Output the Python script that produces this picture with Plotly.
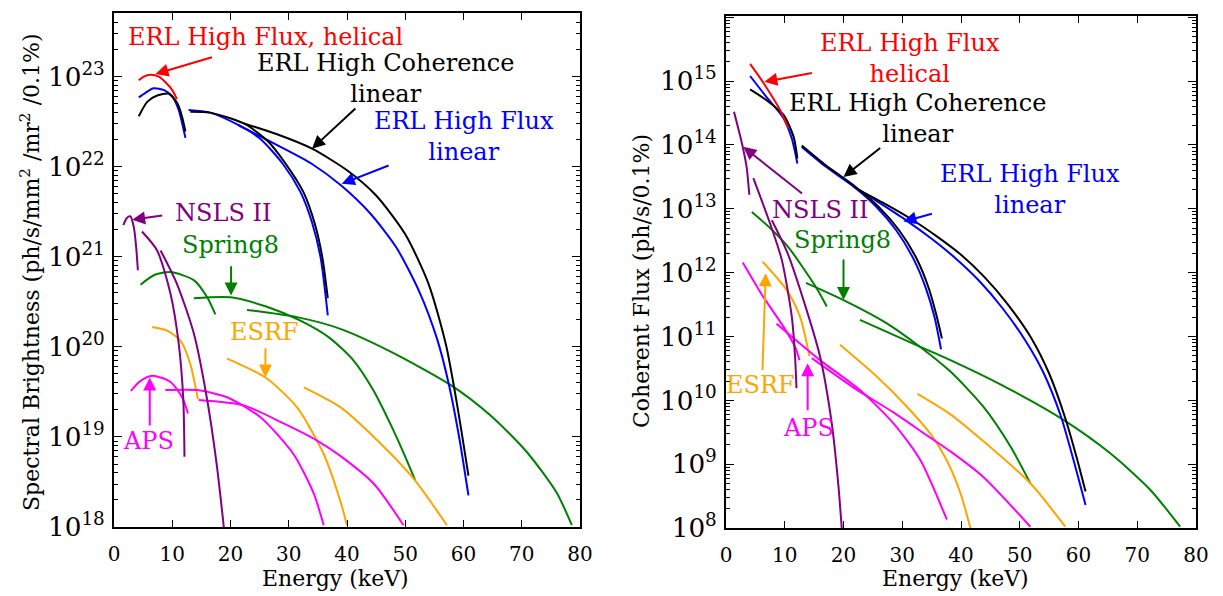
import numpy as np
import plotly.graph_objects as go

# ---------------- data: energies (keV) and log10 of values ----------------
# Left panel: spectral brightness (log10 ph/s/mm^2/mr^2/0.1%)
B_ERL_HF_HEL_E = [4.25, 5.1, 6.3, 7.7, 8.8, 10.0, 10.8]
B_ERL_HF_HEL_L = [22.96, 23.0, 23.02, 23.0, 22.94, 22.85, 22.75]
B_ERL_HF_1_E = [4.25, 5.4, 6.8, 8.6, 10.0, 11.1, 12.26]
B_ERL_HF_1_L = [22.77, 22.82, 22.87, 22.85, 22.78, 22.63, 22.32]
B_ERL_HF_3_E = [12.8, 16.5, 21.4, 25.1, 29.0, 32.0, 34.0, 35.5, 36.7]
B_ERL_HF_3_L = [22.63, 22.60, 22.46, 22.31, 22.03, 21.72, 21.38, 20.98, 20.35]
B_ERL_HF_5_E = [21.4, 28.0, 34.0, 39.0, 44.0, 48.5, 52.5, 55.5, 57.5, 59.3, 60.85]
B_ERL_HF_5_L = [22.46, 22.24, 22.03, 21.79, 21.48, 21.10, 20.60, 20.08, 19.58, 18.98, 18.35]
B_ERL_HC_1_E = [4.25, 5.7, 7.4, 9.4, 10.9, 11.7, 12.26]
B_ERL_HC_1_L = [22.56, 22.72, 22.79, 22.81, 22.70, 22.55, 22.39]
B_ERL_HC_3_E = [13.1, 16.5, 22.3, 26.3, 29.5, 32.5, 34.5, 35.8, 36.7]
B_ERL_HC_3_L = [22.61, 22.60, 22.48, 22.29, 22.03, 21.72, 21.36, 20.98, 20.54]
B_ERL_HC_5_E = [22.3, 28.0, 34.0, 40.0, 45.0, 50.0, 54.0, 57.0, 59.0, 60.85]
B_ERL_HC_5_L = [22.48, 22.36, 22.20, 21.96, 21.68, 21.25, 20.70, 20.02, 19.32, 18.57]
B_NSLS_1_E = [1.6, 2.2, 2.8, 3.4, 3.8, 4.1]
B_NSLS_1_L = [21.35, 21.43, 21.45, 21.33, 21.11, 20.85]
B_NSLS_2_E = [4.8, 7.4, 9.7, 11.1, 11.9, 12.1]
B_NSLS_2_L = [21.28, 21.07, 20.59, 20.04, 19.41, 18.78]
B_NSLS_3_E = [8.0, 10.8, 13.7, 16.0, 17.7, 18.85]
B_NSLS_3_L = [21.07, 20.70, 20.15, 19.41, 18.66, 18.0]
B_SP8_1_E = [4.55, 7.0, 9.7, 13.7, 16.0, 17.4]
B_SP8_1_L = [20.69, 20.80, 20.83, 20.74, 20.55, 20.36]
B_SP8_2_E = [13.7, 20.0, 26.0, 32.0, 37.0, 41.1, 44.5, 47.4, 49.6, 51.7]
B_SP8_2_L = [20.54, 20.55, 20.45, 20.29, 20.10, 19.85, 19.52, 19.15, 18.84, 18.52]
B_SP8_3_E = [22.85, 31.4, 38.85, 47.4, 57.7, 64.6, 70.9, 76.0, 78.6]
B_SP8_3_L = [20.41, 20.33, 20.20, 19.95, 19.58, 19.24, 18.83, 18.38, 18.02]
B_ESRF_1_E = [6.55, 9.1, 11.4, 13.1, 14.4]
B_ESRF_1_L = [20.22, 20.18, 20.07, 19.81, 19.42]
B_ESRF_2_E = [19.4, 26.0, 31.4, 36.0, 38.85, 40.0]
B_ESRF_2_L = [19.87, 19.66, 19.33, 18.81, 18.29, 18.02]
B_ESRF_3_E = [32.6, 38.85, 44.6, 51.4, 57.15]
B_ESRF_3_L = [19.55, 19.33, 19.0, 18.54, 18.02]
B_APS_1_E = [2.9, 4.5, 6.55, 9.7, 11.7, 12.7]
B_APS_1_L = [19.51, 19.62, 19.68, 19.61, 19.44, 19.26]
B_APS_2_E = [8.8, 14.3, 19.4, 25.1, 30.8, 34.3, 36.0]
B_APS_2_L = [19.52, 19.52, 19.44, 19.22, 18.81, 18.37, 18.02]
B_APS_3_E = [14.55, 22.3, 29.1, 34.85, 38.85, 44.6, 49.7]
B_APS_3_L = [19.41, 19.35, 19.15, 18.96, 18.79, 18.48, 18.02]

# Right panel: coherent flux (log10 ph/s/0.1%)
F_ERL_HF_HEL_E = [4.1, 5.8, 7.5, 9.2, 10.6]
F_ERL_HF_HEL_L = [15.27, 15.05, 14.81, 14.55, 14.26]
F_ERL_HF_1_E = [4.1, 6.9, 9.8, 11.2, 12.15]
F_ERL_HF_1_L = [15.08, 14.75, 14.42, 14.10, 13.71]
F_ERL_HF_3_E = [12.9, 17.0, 21.7, 25.5, 29.0, 32.0, 34.0, 35.5, 36.6]
F_ERL_HF_3_L = [13.97, 13.66, 13.35, 13.04, 12.66, 12.20, 11.76, 11.30, 10.80]
F_ERL_HF_5_E = [21.7, 26.0, 30.5, 35.0, 39.0, 43.0, 47.0, 51.0, 54.0, 57.0, 59.4, 61.2]
F_ERL_HF_5_L = [13.35, 13.10, 12.83, 12.53, 12.23, 11.88, 11.45, 10.93, 10.44, 9.75, 8.98, 8.36]
F_ERL_HC_1_E = [4.1, 6.9, 9.8, 11.5, 12.15]
F_ERL_HC_1_L = [14.87, 14.70, 14.47, 14.13, 13.79]
F_ERL_HC_3_E = [12.9, 17.0, 21.7, 26.0, 29.5, 32.5, 34.5, 35.8, 36.75]
F_ERL_HC_3_L = [13.99, 13.68, 13.37, 13.03, 12.66, 12.21, 11.76, 11.34, 10.97]
F_ERL_HC_5_E = [22.5, 27.0, 31.5, 36.0, 40.0, 44.0, 48.0, 52.0, 55.0, 57.75, 59.7, 61.2]
F_ERL_HC_5_L = [13.30, 13.08, 12.84, 12.56, 12.28, 11.93, 11.50, 10.97, 10.42, 9.72, 9.10, 8.57]
F_NSLS_1_E = [1.36, 2.7, 3.5, 3.97]
F_NSLS_1_L = [14.52, 14.03, 13.66, 13.22]
F_NSLS_2_E = [4.65, 7.5, 9.5, 11.2, 11.75, 12.0]
F_NSLS_2_L = [13.48, 12.77, 12.2, 11.31, 10.69, 10.19]
F_NSLS_3_E = [7.8, 10.5, 13.7, 16.0, 18.0, 19.1, 19.7]
F_NSLS_3_L = [12.82, 12.3, 11.42, 10.69, 9.64, 8.70, 8.0]
F_SP8_1_E = [4.4, 7.5, 10.6, 15.4, 17.15]
F_SP8_1_L = [12.95, 12.7, 12.4, 11.76, 11.47]
F_SP8_2_E = [13.6, 20.0, 27.3, 33.0, 38.2, 43.8, 48.4, 51.8]
F_SP8_2_L = [11.84, 11.57, 11.21, 10.84, 10.45, 9.90, 9.28, 8.70]
F_SP8_3_E = [22.8, 30.8, 38.2, 46.7, 57.5, 65.4, 72.2, 77.3]
F_SP8_3_L = [11.26, 10.93, 10.63, 10.25, 9.69, 9.17, 8.60, 8.02]
F_ESRF_1_E = [6.25, 10.3, 12.6, 14.2]
F_ESRF_1_L = [12.17, 11.73, 11.31, 10.69]
F_ESRF_2_E = [19.4, 25.7, 30.8, 35.0, 38.0, 40.0, 41.6]
F_ESRF_2_L = [10.87, 10.37, 9.90, 9.45, 8.98, 8.52, 8.0]
F_ESRF_3_E = [32.6, 38.2, 43.8, 51.8, 57.75]
F_ESRF_3_L = [10.10, 9.78, 9.36, 8.70, 8.02]
F_APS_1_E = [2.85, 6.35, 9.8, 11.75, 12.5]
F_APS_1_L = [12.16, 11.62, 11.15, 10.84, 10.63]
F_APS_2_E = [8.6, 16.0, 22.8, 28.5, 33.05, 37.6]
F_APS_2_L = [11.2, 10.63, 10.16, 9.64, 9.07, 8.13]
F_APS_3_E = [14.6, 21.7, 28.5, 34.2, 38.2, 43.8, 51.8]
F_APS_3_L = [10.66, 10.20, 9.81, 9.45, 9.20, 8.80, 8.02]

X_TICKS = [0, 10, 20, 30, 40, 50, 60, 70, 80]

# ---------------- styling ----------------
RED, BLUE, BLACK = "#ff0000", "#0000ff", "#000000"
PURPLE, GREEN, ORANGE, MAGENTA = "#800080", "#008000", "#ffa500", "#ff00ff"
FONT = "DejaVu Serif"

left_curves = [
    (B_SP8_1_E, B_SP8_1_L, GREEN), (B_SP8_2_E, B_SP8_2_L, GREEN), (B_SP8_3_E, B_SP8_3_L, GREEN),
    (B_ESRF_1_E, B_ESRF_1_L, ORANGE), (B_ESRF_2_E, B_ESRF_2_L, ORANGE), (B_ESRF_3_E, B_ESRF_3_L, ORANGE),
    (B_APS_1_E, B_APS_1_L, MAGENTA), (B_APS_2_E, B_APS_2_L, MAGENTA), (B_APS_3_E, B_APS_3_L, MAGENTA),
    (B_NSLS_1_E, B_NSLS_1_L, PURPLE), (B_NSLS_2_E, B_NSLS_2_L, PURPLE), (B_NSLS_3_E, B_NSLS_3_L, PURPLE),
    (B_ERL_HF_1_E, B_ERL_HF_1_L, BLUE), (B_ERL_HF_3_E, B_ERL_HF_3_L, BLUE), (B_ERL_HF_5_E, B_ERL_HF_5_L, BLUE),
    (B_ERL_HC_1_E, B_ERL_HC_1_L, BLACK), (B_ERL_HC_3_E, B_ERL_HC_3_L, BLACK), (B_ERL_HC_5_E, B_ERL_HC_5_L, BLACK),
    (B_ERL_HF_HEL_E, B_ERL_HF_HEL_L, RED),
]
right_curves = [
    (F_SP8_1_E, F_SP8_1_L, GREEN), (F_SP8_2_E, F_SP8_2_L, GREEN), (F_SP8_3_E, F_SP8_3_L, GREEN),
    (F_ESRF_1_E, F_ESRF_1_L, ORANGE), (F_ESRF_2_E, F_ESRF_2_L, ORANGE), (F_ESRF_3_E, F_ESRF_3_L, ORANGE),
    (F_APS_1_E, F_APS_1_L, MAGENTA), (F_APS_2_E, F_APS_2_L, MAGENTA), (F_APS_3_E, F_APS_3_L, MAGENTA),
    (F_NSLS_1_E, F_NSLS_1_L, PURPLE), (F_NSLS_2_E, F_NSLS_2_L, PURPLE), (F_NSLS_3_E, F_NSLS_3_L, PURPLE),
    (F_ERL_HF_1_E, F_ERL_HF_1_L, BLUE), (F_ERL_HF_3_E, F_ERL_HF_3_L, BLUE), (F_ERL_HF_5_E, F_ERL_HF_5_L, BLUE),
    (F_ERL_HC_1_E, F_ERL_HC_1_L, BLACK), (F_ERL_HC_3_E, F_ERL_HC_3_L, BLACK), (F_ERL_HC_5_E, F_ERL_HC_5_L, BLACK),
    (F_ERL_HF_HEL_E, F_ERL_HF_HEL_L, RED),
]

fig = go.Figure()
for curves, xa, ya in ((left_curves, "x", "y"), (right_curves, "x2", "y2")):
    for e, lg, col in curves:
        fig.add_trace(go.Scatter(
            x=e, y=np.power(10.0, np.array(lg)), mode="lines", xaxis=xa, yaxis=ya,
            line=dict(color=col, width=2, shape="spline", smoothing=0.7),
            showlegend=False, hoverinfo="skip"))

xcommon = dict(range=[0, 80], tickvals=X_TICKS, ticks="inside", ticklen=7, tickwidth=1.3,
               tickcolor="black", showline=True, linecolor="black", linewidth=2, mirror="allticks",
               showgrid=False, zeroline=False, ticklabelstandoff=8, automargin=False,
               tickfont=dict(family=FONT, size=20, color="black"))
ycommon = dict(type="log", dtick=1, ticks="inside", ticklen=8, tickwidth=1.3, tickcolor="black",
               showline=True, linecolor="black", linewidth=2, mirror="allticks", showgrid=False,
               exponentformat="power", showexponent="all", ticklabelstandoff=3, automargin=False,
               minor=dict(ticks="inside", ticklen=4, tickwidth=1, tickcolor="black", showgrid=False),
               tickfont=dict(family=FONT, size=21, color="black"))

fig.update_layout(
    template="none",
    width=1223, height=596, margin=dict(l=0, r=0, t=0, b=0, pad=0, autoexpand=False), autosize=False,
    paper_bgcolor="white", plot_bgcolor="white",
    xaxis=dict(domain=[114 / 1223, 580 / 1223], anchor="y", **xcommon),
    yaxis=dict(domain=[1 - 527 / 596, 1 - 13 / 596], anchor="x", range=[18, 23.706], **ycommon),
    xaxis2=dict(domain=[726 / 1223, 1196 / 1223], anchor="y2", **xcommon),
    yaxis2=dict(domain=[1 - 528 / 596, 1 - 16 / 596], anchor="x2", range=[8, 16.02], **ycommon),
)

ann = []
LBL = 24


def text(xr, yr, x, y, s, col, size=LBL):
    ann.append(dict(xref=xr, yref=yr, x=x, y=y, text=s, showarrow=False, xanchor="center",
                    yanchor="middle", font=dict(family=FONT, size=size, color=col), align="center"))


def arrow(xr, yr, x0, y0, x1, y1, col):
    ann.append(dict(xref=xr, yref=yr, axref=xr, ayref=yr, x=x1, y=y1, ax=x0, ay=y0,
                    text="", showarrow=True, arrowhead=2, arrowsize=1.3, arrowwidth=2,
                    arrowcolor=col, standoff=0, startstandoff=0))


# Left panel labels (y in log10 units)
text("x", "y", 26.0, 23.44, "ERL High Flux, helical", RED)
arrow("x", "y", 17.07, 23.22, 7.12, 23.03, RED)
text("x", "y", 46.6, 22.98, "ERL High Coherence<br>linear", BLACK)
arrow("x", "y", 41.7, 22.66, 34.0, 22.20, BLACK)
text("x", "y", 60.0, 22.33, "ERL High Flux<br>linear", BLUE)
arrow("x", "y", 47.4, 22.02, 39.1, 21.81, BLUE)
text("x", "y", 18.7, 21.49, "NSLS II", PURPLE)
arrow("x", "y", 8.54, 21.46, 3.12, 21.41, PURPLE)
text("x", "y", 20.0, 21.13, "Spring8", GREEN)
arrow("x", "y", 20.1, 20.91, 20.1, 20.57, GREEN)
text("x", "y", 25.8, 20.17, "ESRF", ORANGE)
arrow("x", "y", 26.0, 20.0, 26.0, 19.66, ORANGE)
text("x", "y", 5.9, 18.95, "APS", MAGENTA)
arrow("x", "y", 6.14, 19.11, 6.14, 19.66, MAGENTA)

# Right panel labels
text("x2", "y2", 31.35, 15.35, "ERL High Flux<br>helical", RED)
arrow("x2", "y2", 14.87, 15.13, 6.52, 14.99, RED)
text("x2", "y2", 32.6, 14.42, "ERL High Coherence<br>linear", BLACK)
arrow("x2", "y2", 26.5, 13.97, 20.0, 13.50, BLACK)
text("x2", "y2", 51.8, 13.30, "ERL High Flux<br>linear", BLUE)
arrow("x2", "y2", 35.3, 12.93, 30.2, 12.80, BLUE)
text("x2", "y2", 16.0, 12.98, "NSLS II", PURPLE)
arrow("x2", "y2", 13.2, 13.22, 2.95, 13.97, PURPLE)
text("x2", "y2", 19.8, 12.51, "Spring8", GREEN)
arrow("x2", "y2", 20.0, 12.23, 20.0, 11.57, GREEN)
text("x2", "y2", 5.8, 10.24, "ESRF", ORANGE)
arrow("x2", "y2", 6.2, 10.45, 6.76, 11.99, ORANGE)
text("x2", "y2", 14.0, 9.57, "APS", MAGENTA)
arrow("x2", "y2", 13.9, 9.82, 13.9, 10.58, MAGENTA)

# Axis titles
TS = 22
ann.append(dict(xref="paper", yref="paper", x=30 / 1223, y=1 - 272 / 596, textangle=-90,
                xanchor="center", yanchor="middle",
                text="Spectral Brightness (ph/s/mm<sup>2</sup> /mr<sup>2</sup> /0.1%)", showarrow=False,
                font=dict(family=FONT, size=TS, color="black")))
ann.append(dict(xref="paper", yref="paper", x=641 / 1223, y=1 - 281 / 596, textangle=-90,
                xanchor="center", yanchor="middle",
                text="Coherent Flux (ph/s/0.1%)", showarrow=False,
                font=dict(family=FONT, size=TS, color="black")))
ann.append(dict(xref="paper", yref="paper", x=336 / 1223, y=1 - 578 / 596,
                xanchor="center", yanchor="middle",
                text="Energy (keV)", showarrow=False, font=dict(family=FONT, size=TS, color="black")))
ann.append(dict(xref="paper", yref="paper", x=955 / 1223, y=1 - 578 / 596,
                xanchor="center", yanchor="middle",
                text="Energy (keV)", showarrow=False, font=dict(family=FONT, size=TS, color="black")))

fig.update_layout(annotations=ann)
fig.write_html("out.html", config={"responsive": False, "displayModeBar": False})

# remove default page margins so the 1223x596 figure fills the window exactly
with open("out.html", "r", encoding="utf-8") as fh:
    html = fh.read()
html = html.replace("<head>", "<head><style>html,body{margin:0;padding:0;overflow:hidden;}</style>", 1)
with open("out.html", "w", encoding="utf-8") as fh:
    fh.write(html)
